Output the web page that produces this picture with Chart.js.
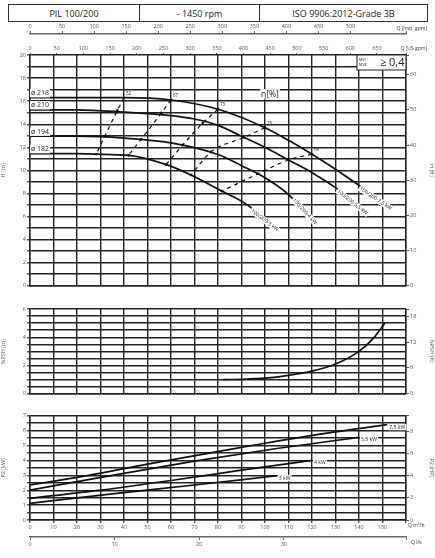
<!DOCTYPE html>
<html><head><meta charset="utf-8">
<script src="https://cdn.jsdelivr.net/npm/chart.js@4"></script>
<style>
body{margin:0;width:435px;height:558px;position:relative;background:#fff;font-family:"Open Sans",sans-serif;overflow:hidden}
canvas{position:absolute;left:0}
#hdr{position:absolute;left:8px;top:4px;width:418px;height:16px;border:1px solid #333;display:flex;font-size:9px;color:#222}
#hdr div{display:flex;align-items:center;justify-content:center;border-right:1px solid #333}
#hdr div:last-child{border-right:none}
</style></head><body>
<div id="hdr"><div style="width:130px">PIL 100/200</div><div style="width:119px">- 1450 rpm</div><div style="flex:1">ISO 9906:2012-Grade 3B</div></div>
<div style="position:absolute;left:0;top:22px;width:435px;height:268px"><canvas id="c1"></canvas></div>
<div style="position:absolute;left:0;top:300px;width:435px;height:100px"><canvas id="c2"></canvas></div>
<div style="position:absolute;left:0;top:400px;width:435px;height:158px"><canvas id="c3"></canvas></div>
<script>
// ---- data (Q in m3/h) ----
const curve218Q=[0,20,40,60,80,100,110,120,130,140,151];
const curve218H=[16.3,16.3,16.3,16.1,15.3,13.7,12.6,11.4,10.1,8.7,7.2];
const curve210Q=[0,20,40,60,70,80,90,100,110,120,130,141];
const curve210H=[15.25,15.25,15.05,14.75,14.45,13.9,12.96,12.0,10.9,9.8,8.5,6.75];
const curve194Q=[0,20,40,60,80,90,100,110,120];
const curve194H=[12.96,12.96,12.8,12.38,11.37,10.4,9.35,7.9,5.7];
const curve182Q=[0,20,28,42,58,68.5,81.6,91,105];
const curve182H=[11.45,11.45,11.4,11.3,10.5,9.6,8.2,7.2,5.0];
const curveLabels=["100/200-7,5 kW","100/200-5,5 kW","100/200-4 kW","100/200-3 kW"];
const diamLabels=["ø 218","ø 210","ø 194","ø 182"];
const effNames=["52","67","73","75","69"];
const eff52Q=[40,37.2,31.8,28.2], eff52H=[16.3,15.2,12.95,11.4];
const eff67Q=[60,56,47.3,41.9], eff67H=[16.1,15.0,12.7,11.3];
const eff73Q=[80,73.5,65,57.9], eff73H=[15.3,14.1,12.2,10.5];
const eff75Q=[100,91,77,68.5], eff75H=[13.7,12.85,11.6,9.6];
const eff69Q=[120,110,97,81.6], eff69H=[11.4,10.9,9.7,8.2];
const npshQ=[82,90,100,110,120,130,140,146,151];
const npshV=[1.0,1.02,1.1,1.3,1.6,2.1,3.0,3.9,5.0];
const p75Q=[0,25,50,75,100,125,152], p75V=[2.35,3.0,3.75,4.45,5.15,5.8,6.4];
const p55Q=[0,35,70,105,140], p55V=[2.0,3.0,3.95,4.8,5.55];
const p4Q=[0,30,60,90,120], p4V=[1.45,2.0,2.65,3.35,4.0];
const p3Q=[0,35,70,105], p3V=[1.12,1.75,2.35,2.97];
const powerLabels=["7,5 kW","5,5 kW","4 kW","3 kW"];

const zip=(a,b)=>a.map((x,i)=>({x:x,y:b[i]}));
const F='"Open Sans", sans-serif';
const tickFont={size:5.5,family:F}, TC='#555', GC='#222';
const mult=(v,s)=>Math.abs(v/s-Math.round(v/s))<1e-6;
const cb=(s,lim)=>v=>(mult(v,s)&&(lim===undefined||v<=lim))?String(Math.round(v)):'';
function ln(q,h,dash){return {data:zip(q,h),borderColor:'#111',borderWidth:dash?1.2:1.7,borderDash:dash?[4,4]:[],pointRadius:dash?1.3:0,pointBackgroundColor:'#111',pointBorderWidth:0,cubicInterpolationMode:'monotone',fill:false};}
const fixW=w=>s=>{s.width=w;}, fixH=h=>s=>{s.height=h;};
function xMain(){return {type:'linear',min:0,max:160,position:'bottom',ticks:{display:false,stepSize:10},grid:{color:GC,lineWidth:1.4,drawTicks:false},border:{color:GC,width:1.4},afterFit:fixH(0)};}
function yLeft(max,step,every,title){return {type:'linear',position:'left',min:0,max:max,ticks:{stepSize:step,color:TC,font:tickFont,padding:1,autoSkip:false,callback:cb(every)},grid:{color:GC,lineWidth:1.4,tickLength:3,tickColor:'#555'},border:{color:GC,width:1.4},title:{display:true,text:title,color:TC,font:{size:5.5,family:F},padding:0},afterFit:fixW(30)};}
function yRight(max,step,title){return {type:'linear',position:'right',min:0,max:max,ticks:{stepSize:step,color:TC,font:tickFont,padding:1,autoSkip:false,callback:cb(step)},grid:{drawOnChartArea:false,tickLength:3,tickColor:'#555'},border:{color:GC,width:1.4},title:{display:true,text:title,color:TC,font:{size:5.5,family:F},padding:0},afterFit:fixW(29)};}
const base={responsive:true,maintainAspectRatio:false,animation:false,events:[],plugins:{legend:{display:false},tooltip:{enabled:false}}};

function txt(ctx,s,x,y,size,align,bg,rot){ctx.save();ctx.font=size+'px '+F;ctx.translate(x,y);if(rot)ctx.rotate(rot);ctx.textAlign=align||'left';ctx.textBaseline='middle';
 if(bg){const w=ctx.measureText(s).width;let x0=align==='center'?-w/2:(align==='right'?-w:0);ctx.fillStyle='#fff';ctx.fillRect(x0-1,-size*0.6,w+2,size*1.2);}
 ctx.fillStyle='#222';ctx.fillText(s,0,0);ctx.restore();}

const curvesQ=[curve218Q,curve210Q,curve194Q,curve182Q], curvesH=[curve218H,curve210H,curve194H,curve182H];
const effQ=[eff52Q,eff67Q,eff73Q,eff75Q,eff69Q], effH=[eff52H,eff67H,eff73H,eff75H,eff69H];

const annot1={id:'a1',afterDraw(c){const ctx=c.ctx,x=c.scales.x,y=c.scales.y;
 diamLabels.forEach((s,i)=>txt(ctx,s,31,y.getPixelForValue(curvesH[i][0])-4.5,7,'left',true));
 effNames.forEach((s,i)=>txt(ctx,s,x.getPixelForValue(effQ[i][0])+2,y.getPixelForValue(effH[i][0])-4,4.5,'left',false));
 txt(ctx,'η[%]',270,y.getPixelForValue(16.6),8.5,'center',true);
 curveLabels.forEach((s,i)=>{const q=curvesQ[i],h=curvesH[i],n=q.length;
  const x1=x.getPixelForValue(q[n-2]),y1=y.getPixelForValue(h[n-2]),x2=x.getPixelForValue(q[n-1]),y2=y.getPixelForValue(h[n-1]);
  const a=Math.atan2(y2-y1,x2-x1);const mx=x2-(x2-x1)*0.45,my=y2-(y2-y1)*0.45;
  txt(ctx,s,mx+Math.sin(a)*4.5,my+Math.cos(a)*4.5,5.2,'center',true,a);});
 const r=x.right;ctx.save();ctx.fillStyle='#fff';ctx.fillRect(r-49,y.top,49,15);ctx.strokeStyle='#222';ctx.lineWidth=1;ctx.strokeRect(r-49,y.top,49,15);ctx.restore();
 txt(ctx,'MEI',r-47,y.top+4.5,3.8,'left');txt(ctx,'MVE',r-47,y.top+10,3.8,'left');txt(ctx,'≥ 0,4',r-1.5,y.top+7.5,11,'right');
 ctx.save();ctx.font='5px '+F;ctx.fillStyle='#333';ctx.textAlign='right';ctx.fillText('Q [Imp. gpm]',427,8);ctx.fillText('Q [US gpm]',427,28);ctx.restore();
}};

new Chart(document.getElementById('c1'),{type:'line',
 data:{datasets:[...curvesQ.map((q,i)=>ln(q,curvesH[i],false)),...effQ.map((q,i)=>ln(q,effH[i],true))]},
 options:{...base,layout:{padding:{top:0,bottom:4.3,left:0,right:0}},
 scales:{x:xMain(),
  xus:{type:'linear',position:'top',weight:0,min:0,max:160/0.22712,ticks:{stepSize:50,color:TC,font:tickFont,padding:1,maxRotation:0,autoSkip:false,callback:cb(50,650)},grid:{drawOnChartArea:false,tickLength:2,tickColor:'#555'},border:{display:false},afterFit:fixH(21)},
  ximp:{type:'linear',position:'top',weight:1,min:0,max:160/0.27277,ticks:{stepSize:50,color:TC,font:tickFont,padding:1,maxRotation:0,autoSkip:false,callback:cb(50,550)},grid:{drawOnChartArea:false,tickLength:3,tickColor:'#666'},border:{color:'#666',width:1.6},afterFit:fixH(12)},
  y:yLeft(20,1,2,'H [m]'),
  yft:yRight(20*3.28084,10,'H [ft]')}},
 plugins:[annot1]});

new Chart(document.getElementById('c2'),{type:'line',
 data:{datasets:[ln(npshQ,npshV,false)]},
 options:{...base,layout:{padding:{top:9,bottom:6.3}},
 scales:{x:xMain(),y:yLeft(6,0.5,2,'NPSH [m]'),yft:yRight(6*3.28084,6,'NPSH [ft]')}}});

const pQ=[p75Q,p55Q,p4Q,p3Q], pV=[p75V,p55V,p4V,p3V];
const annot3={id:'a3',afterDraw(c){const ctx=c.ctx,x=c.scales.x,y=c.scales.y;
 powerLabels.forEach((s,i)=>{const q=pQ[i],v=pV[i],n=q.length;txt(ctx,s,x.getPixelForValue(q[n-1])+2,y.getPixelForValue(v[n-1])+2.5,5.2,'left',true);});
 ctx.save();ctx.font='5px '+F;ctx.fillStyle='#333';ctx.textAlign='left';ctx.fillText('Q m³/h',408,127);ctx.fillText('Q l/s',411,144);ctx.restore();
}};
new Chart(document.getElementById('c3'),{type:'line',
 data:{datasets:pQ.map((q,i)=>ln(q,pV[i],false))},
 options:{...base,layout:{padding:{top:15.7,bottom:9}},
 scales:{x:{...xMain(),weight:0,ticks:{display:true,stepSize:10,color:TC,font:tickFont,padding:1,maxRotation:0,autoSkip:false,callback:cb(10,150)},grid:{color:GC,lineWidth:1.4,tickLength:3,tickColor:'#555'},afterFit:fixH(17)},
  xls:{type:'linear',position:'bottom',weight:1,min:0,max:160/3.6,ticks:{stepSize:10,color:TC,font:tickFont,padding:1,maxRotation:0,autoSkip:false,callback:cb(10)},grid:{drawOnChartArea:false,tickLength:3,tickColor:'#666'},border:{color:'#666',width:1.6},afterFit:fixH(12)},
  y:yLeft(7,0.5,1,'P2 [kW]'),
  yhp:yRight(7*1.34102,2,'P2 [HP]')}},
 plugins:[annot3]});
</script></body></html>
